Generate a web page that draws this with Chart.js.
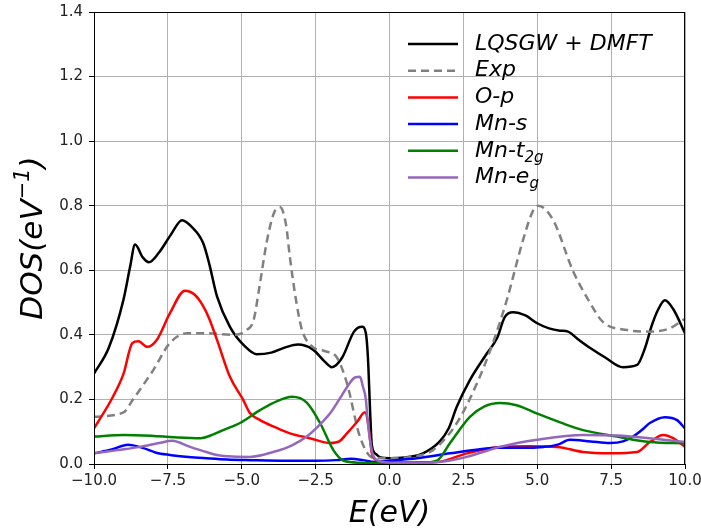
<!DOCTYPE html>
<html>
<head>
<meta charset="utf-8">
<script src="https://cdn.jsdelivr.net/npm/chart.js@4"></script>
<style>
  html, body { margin: 0; padding: 0; background: #fff; }
  #wrap { width: 701px; height: 529px; }
</style>
</head>
<body>
<div id="wrap"><canvas id="dos-chart" width="701" height="529"></canvas></div>
<script>
// DOS curves (E in eV, DOS in 1/eV)
const totalE = [-10, -9.5, -9, -8.78, -8.61, -8.35, -8.14, -7.8, -7.4, -7.02, -6.7, -6.31, -6.1, -5.84, -5.4, -4.9, -4.5, -4.0, -3.5, -3.1, -2.6, -2.2, -1.95, -1.6, -1.2, -0.93, -0.8, -0.73, -0.65, -0.6, -0.45, -0.3, 0, 0.5, 1.13, 1.7, 2.0, 2.28, 2.72, 3.3, 3.64, 3.9, 4.18, 4.6, 5.0, 5.4, 5.77, 6.04, 6.4, 6.78, 7.3, 7.9, 8.38, 8.65, 8.88, 9.1, 9.32, 9.6, 10];
const totalDos = [0.28, 0.36, 0.51, 0.61, 0.68, 0.64, 0.625, 0.655, 0.71, 0.755, 0.735, 0.685, 0.62, 0.52, 0.425, 0.365, 0.34, 0.345, 0.362, 0.37, 0.355, 0.318, 0.30, 0.33, 0.41, 0.425, 0.405, 0.33, 0.15, 0.06, 0.03, 0.02, 0.018, 0.02, 0.033, 0.07, 0.11, 0.178, 0.26, 0.343, 0.39, 0.455, 0.47, 0.46, 0.436, 0.42, 0.413, 0.41, 0.385, 0.36, 0.33, 0.30, 0.307, 0.36, 0.43, 0.48, 0.507, 0.48, 0.405];

const expE = [-10, -9.0, -8.68, -8.0, -7.43, -6.85, -6.2, -5.3, -4.83, -4.6, -4.4, -4.15, -3.9, -3.7, -3.5, -3.37, -3.15, -2.96, -2.59, -2.2, -1.78, -1.44, -1.0, -0.56, 0, 0.7, 1.47, 2.28, 2.96, 3.5, 3.97, 4.52, 4.86, 5.03, 5.54, 6.2, 6.78, 7.22, 8.04, 8.8, 9.48, 10];
const expDos = [0.146, 0.16, 0.20, 0.29, 0.375, 0.405, 0.405, 0.40, 0.415, 0.445, 0.55, 0.69, 0.78, 0.795, 0.74, 0.64, 0.50, 0.415, 0.362, 0.35, 0.33, 0.25, 0.084, 0.02, 0.018, 0.022, 0.043, 0.127, 0.25, 0.375, 0.508, 0.694, 0.785, 0.80, 0.755, 0.60, 0.50, 0.44, 0.415, 0.41, 0.42, 0.45];

const opE = [-10, -9.35, -9.0, -8.7, -8.5, -8.2, -7.87, -7.43, -6.92, -6.6, -6.31, -6.1, -5.84, -5.4, -4.96, -4.72, -4.38, -3.9, -3.37, -2.7, -2.0, -1.7, -1.44, -1.1, -0.83, -0.73, -0.6, -0.45, -0.3, 0.5, 1.6, 2.62, 3.74, 4.7, 5.67, 6.55, 7.46, 8.38, 8.81, 9.26, 9.6, 10];
const opDos = [0.11, 0.21, 0.28, 0.375, 0.38, 0.363, 0.385, 0.467, 0.537, 0.525, 0.49, 0.45, 0.385, 0.27, 0.2, 0.157, 0.136, 0.115, 0.095, 0.08, 0.065, 0.07, 0.095, 0.13, 0.16, 0.13, 0.035, 0.012, 0.008, 0.005, 0.006, 0.033, 0.053, 0.055, 0.053, 0.037, 0.033, 0.037, 0.068, 0.09, 0.08, 0.053];

const mnsE = [-10, -9.4, -8.85, -8.35, -7.9, -7.43, -6.8, -6.2, -5.5, -4.72, -3.5, -2.5, -1.8, -1.3, -0.9, -0.5, 0, 0.93, 2.05, 3.0, 3.74, 4.5, 5.2, 5.7, 6.1, 6.8, 7.46, 7.9, 8.24, 8.6, 8.81, 9.32, 9.73, 10];
const mnsDos = [0.033, 0.045, 0.06, 0.05, 0.035, 0.028, 0.022, 0.018, 0.014, 0.012, 0.01, 0.01, 0.012, 0.016, 0.012, 0.006, 0.01, 0.018, 0.033, 0.045, 0.05, 0.05, 0.053, 0.06, 0.075, 0.07, 0.065, 0.07, 0.085, 0.11, 0.127, 0.145, 0.136, 0.11];

const t2gE = [-10, -9, -8, -7.3, -6.4, -6.0, -5.63, -5.06, -4.38, -3.8, -3.3, -2.8, -2.35, -1.9, -1.55, -1.0, 0, 1.0, 1.6, 2.05, 2.72, 3.2, 3.74, 4.3, 5.0, 5.8, 6.55, 7.7, 8.81, 10];
const t2gDos = [0.085, 0.09, 0.087, 0.083, 0.08, 0.09, 0.105, 0.127, 0.167, 0.195, 0.208, 0.19, 0.127, 0.043, 0.01, 0.004, 0.003, 0.003, 0.01, 0.065, 0.146, 0.178, 0.189, 0.182, 0.156, 0.128, 0.105, 0.085, 0.068, 0.064];

const egE = [-10, -9.2, -8.44, -7.8, -7.36, -6.75, -6.2, -5.84, -5.3, -4.72, -3.94, -3.3, -2.8, -2.4, -2.01, -1.7, -1.44, -1.17, -1.0, -0.9, -0.8, -0.73, -0.56, -0.3, 0.5, 1.5, 2.0, 2.62, 3.74, 5.0, 6.55, 7.7, 8.8, 10];
const egDos = [0.033, 0.043, 0.053, 0.065, 0.072, 0.053, 0.037, 0.028, 0.023, 0.022, 0.037, 0.058, 0.085, 0.118, 0.157, 0.2, 0.238, 0.268, 0.27, 0.24, 0.2, 0.127, 0.028, 0.008, 0.003, 0.005, 0.01, 0.022, 0.053, 0.075, 0.09, 0.088, 0.08, 0.068];

const seriesLabels = ['LQSGW + DMFT', 'Exp', 'O-p', 'Mn-s', 'Mn-t_2g', 'Mn-e_g'];
const seriesColors = ['#000000', '#808080', '#ff0000', '#0000ff', '#008000', '#9467bd'];
const xTicks = [-10, -7.5, -5, -2.5, 0, 2.5, 5, 7.5, 10];
const yTicks = [0, 0.2, 0.4, 0.6, 0.8, 1.0, 1.2, 1.4];

const curves = [[totalE, totalDos], [expE, expDos], [opE, opDos], [mnsE, mnsDos], [t2gE, t2gDos], [egE, egDos]];

const FONT = '"DejaVu Sans", sans-serif';

// draws the frame, the legend with subscripts and the axis titles
const decorPlugin = {
  id: 'decor',
  afterDraw(chart) {
    const ctx = chart.ctx;
    const ca = chart.chartArea;
    ctx.save();
    ctx.strokeStyle = '#000';
    ctx.lineWidth = 1;
    ctx.strokeRect(ca.left + 0.5, ca.top + 0.5, ca.right - ca.left - 1, ca.bottom - ca.top);

    // legend
    const x0 = 408, lineLen = 50, textX = 475, y0 = 44, dy = 26.7;
    seriesLabels.forEach((lab, i) => {
      const y = y0 + dy * i;
      ctx.beginPath();
      ctx.strokeStyle = seriesColors[i];
      ctx.lineWidth = 2.5;
      ctx.setLineDash(i === 1 ? [8, 5] : []);
      ctx.moveTo(x0, y);
      ctx.lineTo(x0 + lineLen, y);
      ctx.stroke();
      ctx.setLineDash([]);
      const [main, sub] = lab.split('_');
      ctx.fillStyle = '#000';
      ctx.textBaseline = 'middle';
      ctx.textAlign = 'left';
      ctx.font = 'italic 22px ' + FONT;
      ctx.fillText(main, textX, y);
      if (sub) {
        const w = ctx.measureText(main).width;
        ctx.font = 'italic 15px ' + FONT;
        ctx.fillText(sub, textX + w, y + 7);
      }
    });

    // x title
    ctx.font = 'italic 30px ' + FONT;
    ctx.textAlign = 'center';
    ctx.textBaseline = 'alphabetic';
    ctx.fillText('E(eV)', (ca.left + ca.right) / 2, 522);

    // y title with superscript
    ctx.translate(42, 238);
    ctx.rotate(-Math.PI / 2);
    ctx.textAlign = 'left';
    ctx.font = 'italic 31px ' + FONT;
    const a = 'DOS(eV', b = '\u22121', c = ')';
    const wa = ctx.measureText(a).width;
    const wc = ctx.measureText(c).width;
    ctx.font = 'italic 21px ' + FONT;
    const wb = ctx.measureText(b).width;
    const start = -(wa + wb + wc) / 2;
    ctx.font = 'italic 31px ' + FONT;
    ctx.fillText(a, start, 0);
    ctx.font = 'italic 21px ' + FONT;
    ctx.fillText(b, start + wa, -13);
    ctx.font = 'italic 31px ' + FONT;
    ctx.fillText(c, start + wa + wb, 0);
    ctx.restore();
  }
};

const datasets = curves.map(([xs, ys], i) => ({
  label: seriesLabels[i],
  data: xs.map((x, k) => ({ x: x, y: ys[k] })),
  borderColor: seriesColors[i],
  borderWidth: 2.5,
  borderDash: i === 1 ? [8, 5] : [],
  pointRadius: 0,
  fill: false,
  cubicInterpolationMode: 'monotone',
  order: 6 - i,
}));

const ctx = document.getElementById('dos-chart').getContext('2d');
new Chart(ctx, {
  type: 'line',
  data: { datasets: datasets },
  options: {
    responsive: false,
    animation: false,
    layout: { padding: { top: 12, right: 16, left: 0, bottom: 0 } },
    plugins: { legend: { display: false }, tooltip: { enabled: false } },
    scales: {
      x: {
        type: 'linear',
        min: -10,
        max: 10,
        afterFit: (s) => { s.height = 65; s.paddingLeft = 0; s.paddingRight = 0; },
        afterBuildTicks: (s) => { s.ticks = xTicks.map(v => ({ value: v })); },
        ticks: {
          font: { family: FONT, size: 15 },
          color: '#222',
          padding: 3,
          maxRotation: 0,
          callback: (v) => v.toFixed(1).replace('-', '\u2212'),
        },
        grid: { color: '#b0b0b0', lineWidth: 1, tickLength: 5, tickColor: '#000' },
        border: { color: '#000', width: 1 },
      },
      y: {
        type: 'linear',
        min: 0,
        max: 1.4,
        afterFit: (s) => { s.width = 94; s.paddingTop = 0; s.paddingBottom = 0; },
        afterBuildTicks: (s) => { s.ticks = yTicks.map(v => ({ value: v })); },
        ticks: {
          font: { family: FONT, size: 15 },
          color: '#222',
          padding: 6,
          callback: (v) => v.toFixed(1),
        },
        grid: { color: '#b0b0b0', lineWidth: 1, tickLength: 5, tickColor: '#000' },
        border: { color: '#000', width: 1 },
      },
    },
  },
  plugins: [decorPlugin],
});
</script>
</body>
</html>
